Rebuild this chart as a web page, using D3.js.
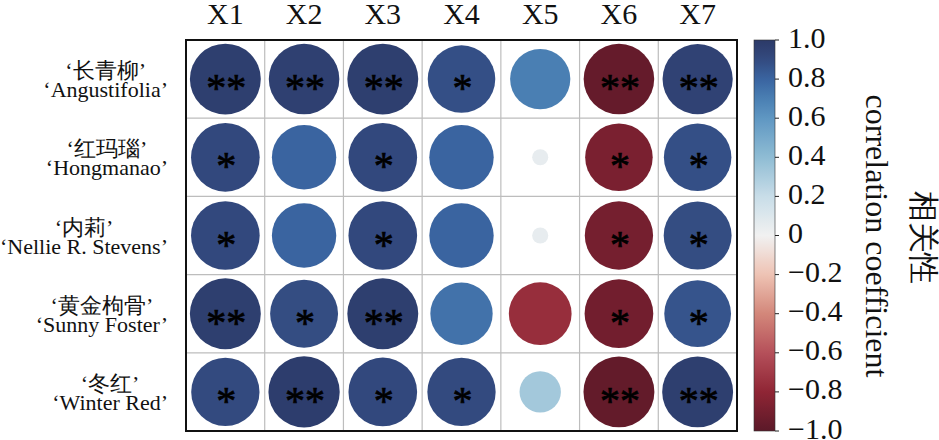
<!DOCTYPE html>
<html>
<head>
<meta charset="utf-8">
<script src="https://cdn.jsdelivr.net/npm/d3@7"></script>
<style>
  body { margin: 0; background: #fff; }
</style>
</head>
<body>
<svg id="chart" width="939" height="440"></svg>
<script>
// data
const cultivarsZh = ["长青柳", "红玛瑙", "内莉", "黄金枸骨", "冬红"];
const cultivarsEn = ["Angustifolia", "Hongmanao", "Nellie R. Stevens", "Sunny Foster", "Winter Red"];
const traits = ["X1", "X2", "X3", "X4", "X5", "X6", "X7"];
const corr = [
  [0.97, 0.96, 0.97, 0.88, 0.70, -0.96, 0.95],
  [0.91, 0.80, 0.91, 0.80, 0.05, -0.88, 0.88],
  [0.91, 0.80, 0.91, 0.80, 0.05, -0.90, 0.89],
  [0.97, 0.89, 0.97, 0.75, -0.76, -0.91, 0.86],
  [0.90, 0.98, 0.91, 0.90, 0.33, -0.97, 0.97]
];
const signif = [
  ["**", "**", "**", "*", "", "**", "**"],
  ["*", "", "*", "", "", "*", "*"],
  ["*", "", "*", "", "", "*", "*"],
  ["**", "*", "**", "", "", "*", "*"],
  ["*", "**", "*", "*", "", "**", "**"]
];
const cbTicks = [1, 0.8, 0.6, 0.4, 0.2, 0, -0.2, -0.4, -0.6, -0.8, -1];

// colours of the (slightly faded) RdBu map in the figure
const colorDomain = [-1, -0.8, -0.6, -0.4, -0.2, 0, 0.2, 0.4, 0.6, 0.7, 0.8, 0.9, 1];
const colorRange = ["#5b1928", "#8f2535", "#b5505a", "#d3877a", "#eec3b4", "#f1f1f1",
  "#c8dde8", "#8fbcd4", "#5f97c2", "#4a7fb3", "#3a64a0", "#334a7f", "#2c3a68"];

const FONT = "Liberation Serif";

const svg = d3.select("#chart");
const grid = {left: 186, top: 40, width: 551, height: 391};

let x = d3.scaleBand().domain(traits).range([grid.left, grid.left + grid.width]);
let y = d3.scaleBand().domain(d3.range(cultivarsEn.length)).range([grid.top, grid.top + grid.height]);
let r = d3.scaleSqrt().domain([0, 1]).range([0, 36]);
let color = d3.scaleLinear().domain(colorDomain).range(colorRange);

// cells
let cells = [];
corr.forEach(function(row, i) {
  row.forEach(function(v, j) {
    cells.push({row: i, col: traits[j], value: v, star: signif[i][j]});
  });
});

// inner grid lines
svg.append("g")
  .selectAll("line")
  .data(traits.slice(1))
  .enter().append("line")
  .attr("x1", d => x(d)).attr("x2", d => x(d))
  .attr("y1", grid.top).attr("y2", grid.top + grid.height)
  .attr("stroke", "#bdbdbd").attr("stroke-width", 1.2);
svg.append("g")
  .selectAll("line")
  .data(d3.range(1, cultivarsEn.length))
  .enter().append("line")
  .attr("x1", grid.left).attr("x2", grid.left + grid.width)
  .attr("y1", d => y(d)).attr("y2", d => y(d))
  .attr("stroke", "#bdbdbd").attr("stroke-width", 1.2);

svg.append("g")
  .selectAll("circle")
  .data(cells)
  .enter().append("circle")
  .attr("cx", d => x(d.col) + x.bandwidth() / 2)
  .attr("cy", d => y(d.row) + y.bandwidth() / 2)
  .attr("r", d => r(Math.abs(d.value)))
  .attr("fill", d => color(d.value));

svg.append("g")
  .selectAll("text")
  .data(cells.filter(d => d.star))
  .enter().append("text")
  .attr("x", d => x(d.col) + x.bandwidth() / 2 + 1)
  .attr("y", d => y(d.row) + y.bandwidth() / 2 + 22)
  .attr("text-anchor", "middle")
  .attr("font-family", FONT)
  .attr("font-size", 40)
  .attr("fill", "#000")
  .attr("stroke", "#000")
  .attr("stroke-width", 0.7)
  .text(d => d.star);

// outer frame
svg.append("rect")
  .attr("x", grid.left).attr("y", grid.top)
  .attr("width", grid.width).attr("height", grid.height)
  .attr("fill", "none").attr("stroke", "#111").attr("stroke-width", 2);

// column labels
svg.append("g")
  .selectAll("text")
  .data(traits)
  .enter().append("text")
  .attr("x", d => x(d) + x.bandwidth() / 2)
  .attr("y", 24)
  .attr("text-anchor", "middle")
  .attr("font-family", FONT)
  .attr("font-size", 30)
  .attr("fill", "#111")
  .text(d => d);

// row labels: latin line right aligned, chinese line centred on it
let rowLab = svg.append("g")
  .selectAll("g")
  .data(cultivarsEn)
  .enter().append("g");
rowLab.each(function(d, i) {
  let g = d3.select(this);
  let cy = y(i) + y.bandwidth() / 2;
  let en = g.append("text")
    .attr("x", 168).attr("y", cy + 18)
    .attr("text-anchor", "end")
    .attr("font-family", FONT)
    .attr("font-size", 22)
    .attr("fill", "#111")
    .text("\u2018" + d + "\u2019");
  let w = en.node().getComputedTextLength();
  g.append("text")
    .attr("x", 168 - w / 2).attr("y", cy - 1)
    .attr("text-anchor", "middle")
    .attr("font-family", FONT)
    .attr("font-size", 22)
    .attr("fill", "#111")
    .text("\u2018" + cultivarsZh[i] + "\u2019");
});

// colour bar
let cb = {x: 754, width: 21};
let cbScale = d3.scaleLinear().domain([1, -1]).range([grid.top, grid.top + grid.height]);

let grad = svg.append("defs").append("linearGradient")
  .attr("id", "cbgrad")
  .attr("x1", 0).attr("y1", 1).attr("x2", 0).attr("y2", 0);
grad.selectAll("stop")
  .data(d3.range(0, 1.0001, 0.02))
  .enter().append("stop")
  .attr("offset", d => d)
  .attr("stop-color", d => color(d * 2 - 1));

svg.append("rect")
  .attr("x", cb.x).attr("y", grid.top)
  .attr("width", cb.width).attr("height", grid.height)
  .attr("fill", "url(#cbgrad)")
  .attr("stroke", "#333").attr("stroke-width", 0.6);

let cbAxis = svg.append("g")
  .attr("transform", "translate(" + (cb.x + cb.width) + ",0)");
cbAxis.selectAll("line")
  .data(cbTicks)
  .enter().append("line")
  .attr("x1", 0).attr("x2", 4)
  .attr("y1", d => cbScale(d)).attr("y2", d => cbScale(d))
  .attr("stroke", "#222").attr("stroke-width", 1);
cbAxis.selectAll("text")
  .data(cbTicks)
  .enter().append("text")
  .attr("x", 13)
  .attr("y", d => cbScale(d) - 3)
  .attr("dominant-baseline", "central")
  .attr("font-family", FONT)
  .attr("font-size", 30)
  .attr("fill", "#111")
  .text(function(d) {
    if (d === 0) return "0";
    return (d < 0 ? "\u2212" : "") + Math.abs(d).toFixed(1);
  });

svg.append("text")
  .attr("transform", "translate(877,236) rotate(90)")
  .attr("text-anchor", "middle")
  .attr("dominant-baseline", "central")
  .attr("font-family", FONT)
  .attr("font-size", 32)
  .attr("fill", "#111")
  .text("correlation coefficient");

svg.append("text")
  .attr("transform", "translate(923,237) rotate(90)")
  .attr("text-anchor", "middle")
  .attr("dominant-baseline", "central")
  .attr("font-family", FONT)
  .attr("font-size", 31)
  .attr("fill", "#111")
  .text("相关性");
</script>
</body>
</html>
